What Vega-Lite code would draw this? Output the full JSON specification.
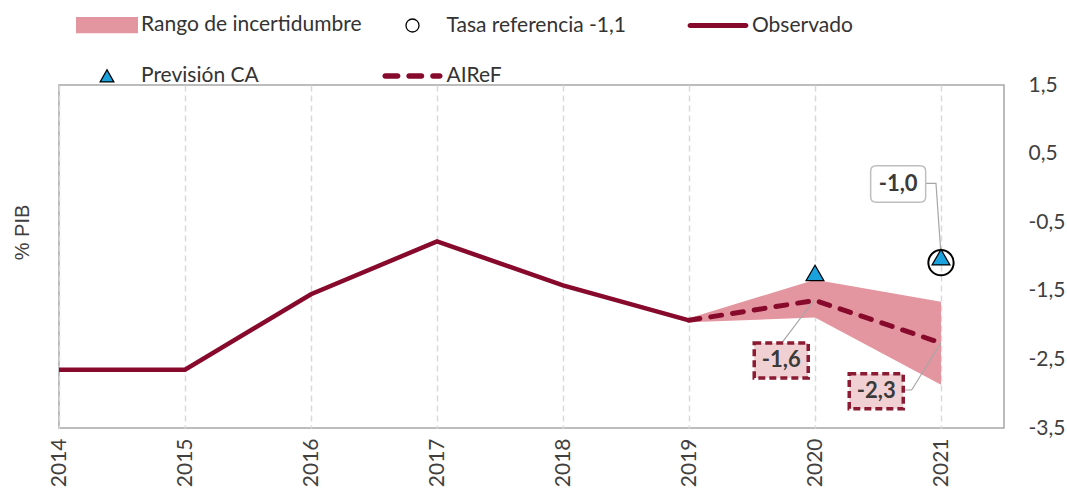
{
  "$schema": "https://vega.github.io/schema/vega-lite/v6.json",
  "autosize": {"type": "none"},
  "padding": {"left": 59, "top": 85, "right": 63, "bottom": 62},
  "width": 945,
  "height": 343,
  "background": "white",
  "config": {
    "font": "Lato",
    "view": {"stroke": "#a6a6a6", "strokeWidth": 1.5}
  },
  "datasets": {
    "series": [
      {"anio": 2014, "serie": "Observado", "valor": -2.65},
      {"anio": 2015, "serie": "Observado", "valor": -2.65},
      {"anio": 2016, "serie": "Observado", "valor": -1.55},
      {"anio": 2017, "serie": "Observado", "valor": -0.78},
      {"anio": 2018, "serie": "Observado", "valor": -1.42},
      {"anio": 2019, "serie": "Observado", "valor": -1.93},
      {"anio": 2019, "serie": "AIReF", "valor": -1.93},
      {"anio": 2020, "serie": "AIReF", "valor": -1.64},
      {"anio": 2021, "serie": "AIReF", "valor": -2.26},
      {"anio": 2019, "serie": "Rango de incertidumbre", "min": -1.96, "max": -1.9},
      {"anio": 2020, "serie": "Rango de incertidumbre", "min": -1.89, "max": -1.34},
      {"anio": 2021, "serie": "Rango de incertidumbre", "min": -2.87, "max": -1.66},
      {"anio": 2020, "serie": "Previsión CA", "valor": -1.24},
      {"anio": 2021, "serie": "Previsión CA", "valor": -1.01},
      {"anio": 2021, "serie": "Tasa referencia -1,1", "valor": -1.09}
    ],
    "leyenda": [
      {"serie": "Rango de incertidumbre"},
      {"serie": "Tasa referencia -1,1"},
      {"serie": "Observado"},
      {"serie": "Previsión CA"},
      {"serie": "AIReF"}
    ],
    "anot": [
      {"anio": 2020.66, "valor": 0.057, "etiqueta": "-1,0", "tipo": "CA"},
      {"anio": 2019.732, "valor": -2.516, "etiqueta": "-1,6", "tipo": "AIReF"},
      {"anio": 2020.486, "valor": -2.965, "etiqueta": "-2,3", "tipo": "AIReF"}
    ],
    "guias": [
      {"id": "a", "orden": 1, "anio": 2020.878, "valor": 0.067},
      {"id": "a", "orden": 2, "anio": 2020.96, "valor": 0.067},
      {"id": "a", "orden": 3, "anio": 2021.0, "valor": -0.978},
      {"id": "b", "orden": 1, "anio": 2019.744, "valor": -2.242},
      {"id": "b", "orden": 2, "anio": 2019.994, "valor": -1.634},
      {"id": "c", "orden": 1, "anio": 2020.701, "valor": -2.946},
      {"id": "c", "orden": 2, "anio": 2020.767, "valor": -2.946},
      {"id": "c", "orden": 3, "anio": 2021.0, "valor": -2.257}
    ]
  },
  "encoding": {
    "x": {
      "field": "anio", "type": "quantitative", "title": null,
      "scale": {"domain": [2014, 2021.5], "nice": false, "zero": false},
      "axis": {
        "values": [2014, 2015, 2016, 2017, 2018, 2019, 2020, 2021],
        "format": "d", "labelAngle": -90, "labelFontSize": 21, "labelPadding": 10,
        "labelColor": "#404040", "labelFlush": false, "labelOverlap": false,
        "ticks": false, "domain": false, "grid": true, "gridDash": [6, 4],
        "gridColor": "#d9d9d9", "gridWidth": 1.5
      }
    },
    "y": {
      "field": "valor", "type": "quantitative", "title": "% PIB",
      "scale": {"domain": [-3.5, 1.5], "nice": false, "zero": false},
      "axis": {
        "orient": "right",
        "values": [1.5, 0.5, -0.5, -1.5, -2.5, -3.5],
        "labelExpr": "replace(datum.value + '', '.', ',')",
        "labelFontSize": 21, "labelPadding": 24, "labelColor": "#404040",
        "ticks": false, "domain": false, "grid": false,
        "titleFont": "Liberation Sans", "titleFontSize": 20, "titleFontWeight": "normal",
        "titleColor": "#404040", "titleAngle": 270, "titleX": -982, "titleY": 147,
        "titleAlign": "center", "titleBaseline": "middle"
      }
    }
  },
  "layer": [
    {
      "data": {"name": "series"},
      "transform": [{"filter": "datum.serie == 'Rango de incertidumbre'"}],
      "mark": {"type": "area", "opacity": 1, "color": "#e3969f"},
      "encoding": {
        "y": {"field": "min", "type": "quantitative", "title": "% PIB"},
        "y2": {"field": "max"}
      }
    },
    {
      "data": {"name": "guias"},
      "mark": {"type": "line", "color": "#a6a6a6", "strokeWidth": 1.2},
      "encoding": {
        "detail": {"field": "id", "type": "nominal"},
        "order": {"field": "orden", "type": "quantitative"}
      }
    },
    {
      "data": {"name": "series"},
      "transform": [{"filter": "datum.serie == 'Observado'"}],
      "mark": {"type": "line", "strokeWidth": 4.5, "color": "#870a2d"}
    },
    {
      "data": {"name": "series"},
      "transform": [{"filter": "datum.serie == 'AIReF'"}],
      "mark": {"type": "line", "strokeWidth": 5, "strokeDash": [11, 11], "strokeCap": "round", "color": "#870a2d"}
    },
    {
      "data": {"name": "series"},
      "transform": [{"filter": "datum.serie == 'Tasa referencia -1,1'"}],
      "mark": {"type": "point", "shape": "circle", "filled": false, "size": 640, "strokeWidth": 2, "opacity": 1, "color": "#000000"}
    },
    {
      "data": {"name": "series"},
      "transform": [{"filter": "datum.serie == 'Previsión CA'"}],
      "mark": {"type": "point", "shape": "triangle-up", "filled": true, "size": 320, "fill": "#1ba1db", "stroke": "#000000", "strokeWidth": 1.2, "opacity": 1}
    },
    {
      "data": {"name": "anot"},
      "transform": [{"filter": "datum.tipo == 'CA'"}],
      "mark": {"type": "point", "shape": "M-0.8,-0.66H0.8Q1,-0.66 1,-0.46V0.46Q1,0.66 0.8,0.66H-0.8Q-1,0.66 -1,0.46V-0.46Q-1,-0.66 -0.8,-0.66Z", "size": 3025, "filled": true, "fill": "white", "stroke": "#bfbfbf", "strokeWidth": 1.5, "opacity": 1}
    },
    {
      "data": {"name": "anot"},
      "transform": [{"filter": "datum.tipo == 'AIReF'"}],
      "mark": {"type": "point", "shape": "M-1,-0.65H1V0.65H-1Z", "size": 2916, "filled": true, "fill": "#f0d0d3", "stroke": "#8b1a33", "strokeWidth": 3.5, "strokeDash": [7, 4], "opacity": 1}
    },
    {
      "data": {"name": "anot"},
      "mark": {"type": "text", "font": "Lato", "fontWeight": "bold", "fontSize": 22, "color": "#3a3a3a", "align": "center", "baseline": "middle"},
      "encoding": {"text": {"field": "etiqueta"}}
    },
    {
      "data": {"name": "leyenda"},
      "mark": {"type": "point"},
      "encoding": {
        "shape": {
          "field": "serie", "type": "nominal",
          "scale": {
            "domain": ["Rango de incertidumbre", "Tasa referencia -1,1", "Observado", "Previsión CA", "AIReF"],
            "range": [
              "M-1,-0.26H1V0.26H-1Z",
              "M0.21,0A0.21,0.21,0,1,1,-0.21,0A0.21,0.21,0,1,1,0.21,0Z",
              "M-0.9,-0.08H0.9A0.08,0.08,0,0,1,0.9,0.08H-0.9A0.08,0.08,0,0,1,-0.9,-0.08Z",
              "M0,-0.2L0.22,0.19L-0.22,0.19Z",
              "M-0.88,-0.09H-0.48A0.09,0.09,0,0,1,-0.48,0.09H-0.88A0.09,0.09,0,0,1,-0.88,-0.09ZM-0.11,-0.09H0.29A0.09,0.09,0,0,1,0.29,0.09H-0.11A0.09,0.09,0,0,1,-0.11,-0.09ZM0.66,-0.09H0.88A0.09,0.09,0,0,1,0.88,0.09H0.66A0.09,0.09,0,0,1,0.66,-0.09Z"
            ]
          },
          "legend": {
            "title": null, "orient": "none", "legendX": 16, "legendY": -92,
            "direction": "horizontal",
            "columns": 3, "gridAlign": "all", "columnPadding": 17.5, "rowPadding": 8,
            "symbolSize": 3844, "symbolStrokeWidth": 1.3, "symbolOpacity": 1,
            "labelFontSize": 21, "labelColor": "#333333", "labelOffset": 2, "labelLimit": 400
          }
        },
        "fill": {
          "field": "serie", "type": "nominal",
          "scale": {
            "domain": ["Rango de incertidumbre", "Tasa referencia -1,1", "Observado", "Previsión CA", "AIReF"],
            "range": ["#e3969f", "#ffffff", "#870a2d", "#1ba1db", "#870a2d"]
          },
          "legend": {
            "title": null, "orient": "none", "legendX": 16, "legendY": -92,
            "direction": "horizontal",
            "columns": 3, "gridAlign": "all", "columnPadding": 17.5, "rowPadding": 8,
            "symbolSize": 3844, "symbolStrokeWidth": 1.3, "symbolOpacity": 1,
            "labelFontSize": 21, "labelColor": "#333333", "labelOffset": 2, "labelLimit": 400
          }
        },
        "stroke": {
          "field": "serie", "type": "nominal",
          "scale": {
            "domain": ["Rango de incertidumbre", "Tasa referencia -1,1", "Observado", "Previsión CA", "AIReF"],
            "range": ["transparent", "#000000", "transparent", "#000000", "transparent"]
          },
          "legend": {
            "title": null, "orient": "none", "legendX": 16, "legendY": -92,
            "direction": "horizontal",
            "columns": 3, "gridAlign": "all", "columnPadding": 17.5, "rowPadding": 8,
            "symbolSize": 3844, "symbolStrokeWidth": 1.3, "symbolOpacity": 1,
            "labelFontSize": 21, "labelColor": "#333333", "labelOffset": 2, "labelLimit": 400
          }
        }
      }
    }
  ]
}
